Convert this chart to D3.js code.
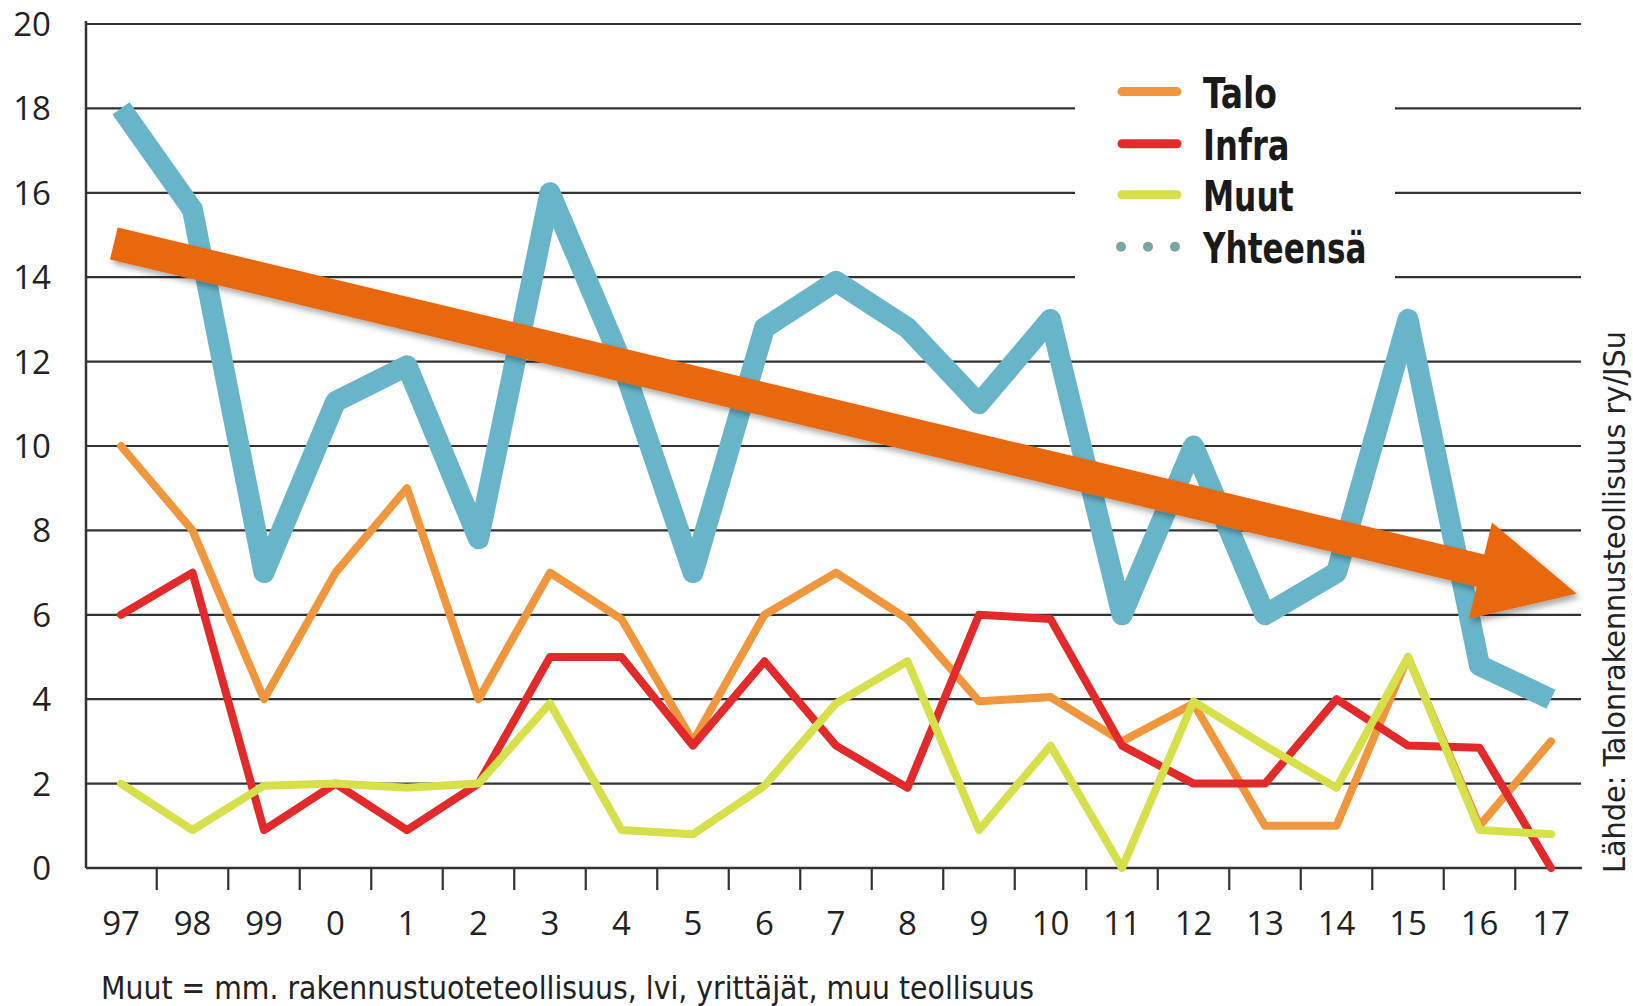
<!DOCTYPE html>
<html>
<head>
<meta charset="utf-8">
<script src="https://cdn.jsdelivr.net/npm/d3@7"></script>
<style>
  html, body { margin: 0; padding: 0; background: #fff; }
  svg { display: block; }
</style>
</head>
<body>
<svg id="chart" width="1633" height="1006"></svg>
<script>
// ---- data ----
const years = ["97","98","99","0","1","2","3","4","5","6","7","8","9","10","11","12","13","14","15","16","17"];
const talo  = [10, 8, 4, 7, 9, 4, 7, 5.9, 3, 6, 7, 5.9, 3.95, 4.05, 3, 3.9, 1, 1, 5, 1, 3];
const infra = [6, 7, 0.9, 2, 0.9, 2, 5, 5, 2.9, 4.9, 2.9, 1.9, 6, 5.9, 2.9, 2, 2, 4, 2.9, 2.85, 0];
const muut  = [2, 0.9, 1.95, 2, 1.9, 2, 3.9, 0.9, 0.8, 1.95, 3.9, 4.9, 0.9, 2.9, 0, 3.95, 2.9, 1.9, 5, 0.9, 0.8];
const yhteensa = [18, 15.6, 7, 11.05, 11.9, 7.8, 16, 12, 7, 12.8, 13.9, 12.8, 11, 13, 6, 10, 6, 7, 13, 4.8, 4];
const yTicks = [0, 2, 4, 6, 8, 10, 12, 14, 16, 18, 20];
const legendLabels = ["Talo", "Infra", "Muut", "Yhteensä"];
// trend arrow, in data space: [category index, value]
const trendStart = [-0.1, 14.8];
const trendEnd = [20.36, 6.5];
const footnote = "Muut = mm. rakennustuoteteollisuus, lvi, yrittäjät, muu teollisuus";
const source = "Lähde: Talonrakennusteollisuus ry/JSu";

// ---- styles ----
const colors = { talo: "#f0973d", infra: "#e32a2a", muut: "#d6e04b", total: "#68b5c9", arrow: "#e8680c", dots: "#7aa6a8" };
const axisFont = "'Open Sans', 'Noto Sans', sans-serif";
const noteFont = "'DejaVu Sans Condensed', 'DejaVu Sans', sans-serif";
const legendFont = "'Liberation Sans Narrow', 'DejaVu Sans Condensed', sans-serif";
const legendTextWidths = [74, 86.5, 90.6, 163.5];

const svg = d3.select("#chart");
const mLeft = 86, mRight = 1582, mTop = 24, mBottom = 868;

const x = d3.scalePoint().domain(years).range([121, 1551]);
const idx = d3.scaleLinear().domain([0, years.length - 1]).range([121, 1551]);
const y = d3.scaleLinear().domain([0, 20]).range([mBottom, mTop]);

const defs = svg.append("defs");
const f = defs.append("filter").attr("id", "shadow").attr("x", "-5%").attr("y", "-20%").attr("width", "110%").attr("height", "150%");
f.append("feDropShadow").attr("dx", 3).attr("dy", 4).attr("stdDeviation", 3).attr("flood-color", "#000").attr("flood-opacity", 0.35);

// gridlines
svg.append("g").selectAll("line").data(yTicks.filter(d => d > 0)).join("line")
  .attr("x1", mLeft).attr("x2", mRight - 1)
  .attr("y1", d => y(d)).attr("y2", d => y(d))
  .attr("stroke", "#333").attr("stroke-width", 2.2);

// y axis line
svg.append("line").attr("x1", mLeft).attr("x2", mLeft).attr("y1", mTop - 3).attr("y2", mBottom)
  .attr("stroke", "#333").attr("stroke-width", 2.5);
// x axis line
svg.append("line").attr("x1", mLeft).attr("x2", mRight).attr("y1", mBottom).attr("y2", mBottom)
  .attr("stroke", "#333").attr("stroke-width", 2.5);

// x ticks between categories
const tickPos = years.slice(1).map((d, i) => (x(years[i]) + x(d)) / 2);
svg.append("g").selectAll("line").data(tickPos).join("line")
  .attr("x1", d => d).attr("x2", d => d).attr("y1", mBottom).attr("y2", mBottom + 22)
  .attr("stroke", "#333").attr("stroke-width", 2.2);

// y labels
svg.append("g").selectAll("text").data(yTicks).join("text")
  .attr("x", 51).attr("y", d => y(d) + 12)
  .attr("text-anchor", "end")
  .attr("font-family", axisFont).attr("font-size", 33).attr("fill", "#222")
  .text(d => d);

// x labels
svg.append("g").selectAll("text").data(years).join("text")
  .attr("x", d => x(d)).attr("y", 935)
  .attr("text-anchor", "middle")
  .attr("font-family", axisFont).attr("font-size", 33).attr("fill", "#222")
  .text(d => d);

// legend background
svg.append("rect").attr("x", 1075).attr("y", 60).attr("width", 320).attr("height", 240).attr("fill", "#fff");

// series lines
const line = d3.line().x((d, i) => x(years[i])).y(d => y(d));
[[talo, colors.talo], [infra, colors.infra], [muut, colors.muut]].forEach(([vals, c]) => {
  svg.append("path").datum(vals).attr("d", line)
    .attr("fill", "none").attr("stroke", c).attr("stroke-width", 8)
    .attr("stroke-linejoin", "round").attr("stroke-linecap", "round");
});
svg.append("path").datum(yhteensa).attr("d", line)
  .attr("fill", "none").attr("stroke", colors.total).attr("stroke-width", 21)
  .attr("stroke-linejoin", "round").attr("stroke-linecap", "butt");

// legend
const legY = [91.6, 143.7, 194.7, 246.8];
const legColors = [colors.talo, colors.infra, colors.muut];
const lg = svg.append("g");
legColors.forEach((c, i) => {
  lg.append("line").attr("x1", 1122).attr("x2", 1177).attr("y1", legY[i]).attr("y2", legY[i])
    .attr("stroke", c).attr("stroke-width", 9).attr("stroke-linecap", "round");
});
lg.selectAll("circle").data([1121, 1148, 1175]).join("circle")
  .attr("cx", d => d).attr("cy", legY[3]).attr("r", 5).attr("fill", colors.dots);
lg.selectAll("text").data(legendLabels).join("text")
  .attr("x", 1203).attr("y", (d, i) => legY[i] + 16)
  .attr("font-family", legendFont).attr("font-weight", "bold").attr("font-size", 43).attr("fill", "#1a1a1a")
  .attr("textLength", (d, i) => legendTextWidths[i]).attr("lengthAdjust", "spacingAndGlyphs")
  .text(d => d);

// trend arrow
(function () {
  const S = [idx(trendStart[0]), y(trendStart[1])];
  const T = [idx(trendEnd[0]), y(trendEnd[1])];
  const dx = T[0] - S[0], dy = T[1] - S[1], L = Math.hypot(dx, dy);
  const u = [dx / L, dy / L], n = [-u[1], u[0]];
  const hw = 16.5, HW = 49.5, HL = 99;
  const B = [T[0] - u[0] * HL, T[1] - u[1] * HL];
  const p = (P, k) => [P[0] + n[0] * k, P[1] + n[1] * k];
  const pts = [p(S, -hw), p(B, -hw), p(B, -HW), T, p(B, HW), p(B, hw), p(S, hw)];
  svg.append("path").attr("d", "M" + pts.map(q => q.join(",")).join("L") + "Z")
    .attr("fill", colors.arrow).attr("filter", "url(#shadow)");
})();

// footnote
svg.append("text").attr("x", 101).attr("y", 999)
  .attr("font-family", noteFont).attr("font-size", 31.5).attr("fill", "#222")
  .text(footnote);

// source (vertical)
svg.append("text").attr("transform", "translate(1625,873) rotate(-90)")
  .attr("font-family", noteFont).attr("font-size", 31).attr("fill", "#222")
  .attr("textLength", 542).attr("lengthAdjust", "spacingAndGlyphs")
  .text(source);
</script>
</body>
</html>
